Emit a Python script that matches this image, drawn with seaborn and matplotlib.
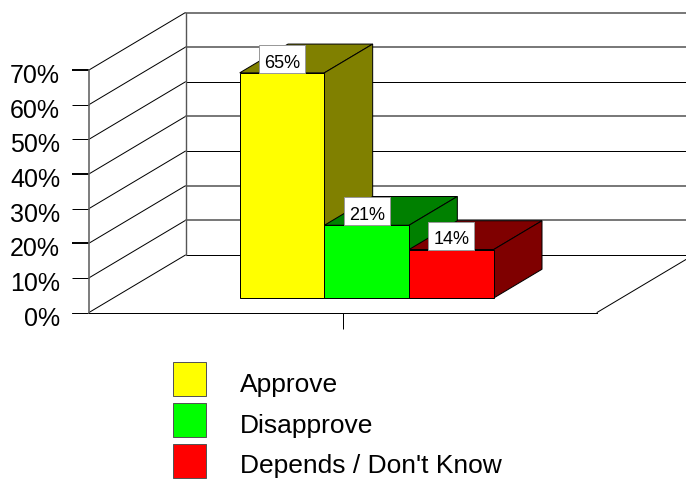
import matplotlib
matplotlib.use("Agg")
import matplotlib.pyplot as plt
from matplotlib.patches import Polygon, Rectangle
from matplotlib.transforms import ScaledTranslation
import pandas as pd
import seaborn as sns

series = ["Approve", "Disapprove", "Depends / Don't Know"]
values = [65, 21, 14]
front_colors = ["#FFFF00", "#00FF00", "#FF0000"]
side_colors = ["#808000", "#008000", "#7F0000"]
y_ticks = [0, 10, 20, 30, 40, 50, 60, 70]
y_labels = ["0%", "10%", "20%", "30%", "40%", "50%", "60%", "70%"]
gray_back = [70, 60, 40, 20, 10]
gray_ticks = [70, 40, 20]

W, H, DPI = 686, 479, 100
AX_L, AX_R, AX_B, AX_T = 89, 597, 312.5, 70.0
px_x = 1 / (AX_R - AX_L)
px_y = 70 / (AX_B - AX_T)
LW = 0.72

sns.set_theme(style="white")
plt.rcParams["font.family"] = ["Liberation Sans", "DejaVu Sans"]

fig = plt.figure(figsize=(W / DPI, H / DPI), dpi=DPI, facecolor="white")
ax = fig.add_axes([AX_L / W, 1 - AX_B / H, (AX_R - AX_L) / W, (AX_B - AX_T) / H])
ax.patch.set_alpha(0)

df = pd.DataFrame({"group": [""] * len(series), "series": series, "value": values})
sns.barplot(data=df, x="group", y="value", hue="series", hue_order=series,
            palette=front_colors, width=0.5, gap=0, dodge=True, saturation=1,
            edgecolor="black", linewidth=LW, ax=ax, legend=True)
ax.set_xlim(-0.5, 0.5)
ax.set_ylim(0, 70)
ax.set_xlabel("")
ax.set_ylabel("")

# walls and floor of the 3-D box
DX, DY = 96.5 * px_x, 57.5 * px_y
RIGHT = 0.5 + 100 * px_x
x0 = -0.5
for v in y_ticks:
    ax.plot([x0, x0 + DX], [v, v + DY], color="black", lw=LW, clip_on=False, zorder=0.5)
    gray = v in gray_back
    ax.plot([x0 + DX, RIGHT], [v + DY, v + DY], color="#777777" if gray else "black",
            lw=1.4 if gray else LW, clip_on=False, zorder=0.5)
ax.plot([x0 + DX, x0 + DX], [DY, 70 + DY], color="#555555", lw=1.0, clip_on=False, zorder=0.5)
ax.plot([0.5, 0.5 + DX], [0, DY], color="black", lw=LW, clip_on=False, zorder=0.5)

# bars sit in the middle of the depth
depth = ax.transData + ScaledTranslation(23.75 / DPI, 14.5 / DPI, fig.dpi_scale_trans)
bx, by = DX / 2, DY / 2
bars = [c[0] for c in ax.containers]
for bar, side in zip(bars, side_colors):
    bar.set_transform(depth)
    bar.set_clip_on(False)
    bar.set_zorder(2)
    x, w, h = bar.get_x(), bar.get_width(), bar.get_height()
    top = [(x, h), (x + w, h), (x + w + bx, h + by), (x + bx, h + by)]
    right = [(x + w, 0), (x + w + bx, by), (x + w + bx, h + by), (x + w, h)]
    for pts in (top, right):
        ax.add_patch(Polygon(pts, closed=True, facecolor=side, edgecolor="black", lw=LW,
                             transform=depth, clip_on=False, zorder=1.5))

# value labels
for bar, val in zip(bars, values):
    cx = bar.get_x() + bar.get_width() / 2
    ax.add_patch(Rectangle((cx - 23 * px_x, val), 46 * px_x, 28 * px_y, facecolor="white",
                           edgecolor="#999999", lw=LW, transform=depth, clip_on=False, zorder=3))
    ax.text(cx, val + 9.5 * px_y, f"{val}%", transform=depth, ha="center", va="center",
            fontsize=13, color="black", zorder=4)

# axes
ax.set_yticks(y_ticks, y_labels)
ax.tick_params(axis="y", left=True, length=12.2, width=LW, color="black", pad=8.6,
               labelsize=18, labelcolor="black")
ax.set_xticks([0], [""])
ax.tick_params(axis="x", bottom=True, length=11.5, width=LW, color="black")
shift = ScaledTranslation(0, -3.5 / DPI, fig.dpi_scale_trans)
for v, tick in zip(y_ticks, ax.yaxis.get_major_ticks()):
    tick.label1.set_transform(tick.label1.get_transform() + shift)
    if v in gray_ticks:
        tick.tick1line.set_color("#777777")
        tick.tick1line.set_markeredgewidth(1.4)
for s in ("top", "right"):
    ax.spines[s].set_visible(False)
ax.spines["left"].set_color("#666666")
ax.spines["left"].set_linewidth(1.2)
ax.spines["bottom"].set_color("black")
ax.spines["bottom"].set_linewidth(LW)
ax.spines["bottom"].set_bounds(-0.5, 0.5)
ax.plot([x0 - 17 * px_x, x0], [0, 0], color="black", lw=LW, clip_on=False)

# legend
sns.move_legend(ax, "upper left", bbox_to_anchor=(173 / W, 1 - 366 / H),
                bbox_transform=fig.transFigure, title=None, frameon=False, fontsize=19,
                handlelength=1.25, handleheight=1.6, labelspacing=0.265, handletextpad=1.29,
                borderpad=0, borderaxespad=0, labelcolor="black")
for h in ax.get_legend().get_patches():
    h.set_edgecolor("#555555")
    h.set_linewidth(LW)
    h.set_y(h.get_y() + 2.88)

fig.savefig("out.png", dpi=DPI)
